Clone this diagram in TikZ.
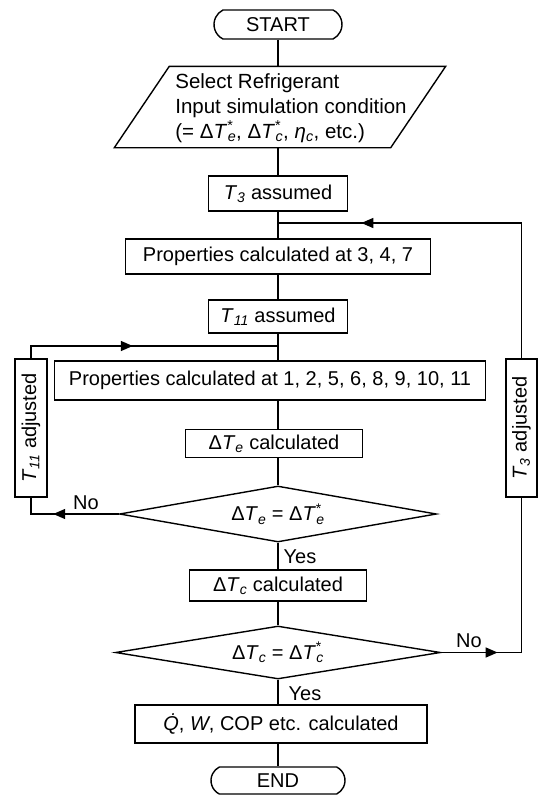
\documentclass[tikz,border=0pt]{standalone}
\usepackage{fontspec}
\setmainfont{Liberation Sans}
\usetikzlibrary{arrows.meta,shapes.geometric,shapes.misc,decorations.markings}
\newcommand{\Tv}[1]{\textit{T}\textsubscript{\textit{#1}}}
\newcommand{\Tvs}[1]{\textit{T}\textsuperscript{\rlap{*}}\textsubscript{\textit{#1}}}
\begin{document}
\begin{tikzpicture}[x=1pt,y=-1pt, line width=1.4pt,
  font=\fontsize{20}{24}\selectfont,
  box/.style={draw, rectangle, inner sep=0pt},
  term/.style={draw, rounded rectangle, rounded rectangle arc length=127, inner sep=0pt},
  decision/.style={draw, diamond, aspect=5.7, inner sep=0pt},
  lbl/.style={inner sep=0pt},
  midarrow/.style={postaction={decorate, decoration={markings,
    mark=at position #1 with {\arrow{Triangle[length=12pt,width=10pt]}}}}}]
\useasboundingbox (0,0) rectangle (546,795);

\node[term, minimum width=128pt, minimum height=29pt] (start) at (278,24.5) {START};
% parallelogram: frame node, outline drawn from its corners
\node[inner sep=0pt, minimum width=330pt, minimum height=80pt] (para) at (280,107) {};
\draw ([xshift=55pt]para.north west) -- (para.north east)
  -- ([xshift=-55pt]para.south east) -- (para.south west) -- cycle;
\node[lbl, align=left, font=\fontsize{20.5}{25}\selectfont] (paratext) at (291,108)
  {Select Refrigerant\\Input simulation condition\\(= Δ\Tvs{e}, Δ\Tvs{c}, \textit{η}\textsubscript{\textit{c}}, etc.)};
\node[box, minimum width=139pt, minimum height=35pt] (t3) at (278,193.5) {\Tv{3} assumed};
\node[box, minimum width=305pt, minimum height=35pt] (p347) at (278,256.5) {Properties calculated at 3, 4, 7};
\node[box, minimum width=139pt, minimum height=33pt] (t11) at (278,316.5) {\Tv{11} assumed};
\node[box, minimum width=431pt, minimum height=39pt] (p111) at (270,380.5) {Properties calculated at 1, 2, 5, 6, 8, 9, 10, 11};
\node[box, minimum width=177pt, minimum height=28pt] (dte) at (274,443.5) {Δ\Tv{e} calculated};
\node[decision, minimum width=317pt, minimum height=56pt] (d1) at (278,514) {Δ\Tv{e} = Δ\Tvs{e}};
\node[box, minimum width=177pt, minimum height=31pt] (dtc) at (278,585.5) {Δ\Tv{c} calculated};
\node[decision, minimum width=325pt, minimum height=53pt] (d2) at (278,652.5) {Δ\Tv{c} = Δ\Tvs{c}};
\node[box, minimum width=292pt, minimum height=38pt] (q) at (281,724) {\textit{\.{Q}}, \textit{W}, COP etc. calculated};
\node[term, minimum width=134pt, minimum height=27pt] (end) at (278,780.5) {END};

\node[box, rotate=90, minimum width=138pt, minimum height=32pt] (t11adj) at (31,428) {\Tv{11} adjusted};
\node[box, rotate=90, minimum width=138pt, minimum height=31pt] (t3adj) at (521.5,428) {\Tv{3} adjusted};

\coordinate (j2) at (278,223);
\coordinate (j1) at (278,346);

\draw (start.south) -- (start.south |- para.north);
\draw (t3.north |- para.south) -- (t3.north);
\draw (t3) -- (p347);
\draw (p347) -- (t11);
\draw (t11.south) -- (t11.south |- p111.north);
\draw (t11.south |- p111.south) -- (t11.south |- dte.north);
\draw (d1.north |- dte.south) -- (d1.north);
\draw (d1) -- (dtc);
\draw (dtc) -- (d2);
\draw (d2.south) -- (d2.south |- q.north);
\draw (end.north |- q.south) -- (end.north);

\draw[midarrow=0.63] (d1.west) -| (t11adj.west);
\draw[midarrow=0.44] (t11adj.east) |- (j1);
\draw[midarrow=0.24] (d2.east) -| (t3adj.west);
\draw[midarrow=0.78] (t3adj.east) |- (j2);

\node[lbl] (no1) at (86,503) {No};
\node[lbl] (yes1) at (300,557) {Yes};
\node[lbl] (no2) at (469,641) {No};
\node[lbl] (yes2) at (305,694) {Yes};
\end{tikzpicture}
\end{document}
